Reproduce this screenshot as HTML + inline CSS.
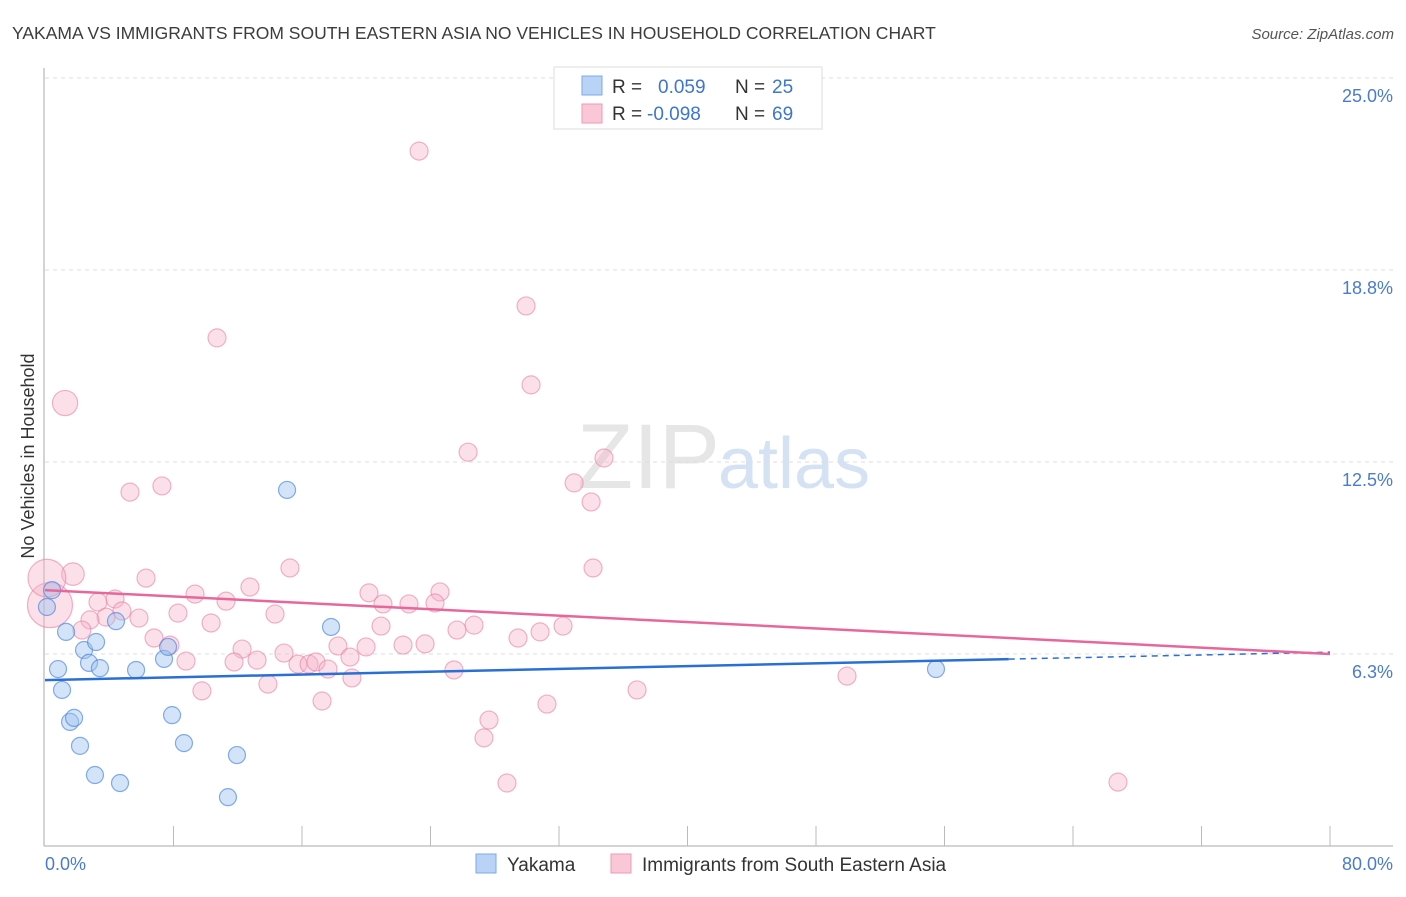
<!DOCTYPE html>
<html><head><meta charset="utf-8"><style>
body{margin:0;background:#fff;font-family:"Liberation Sans",sans-serif;}
svg text{font-family:"Liberation Sans",sans-serif;}
</style></head><body>
<svg id="chart" width="1406" height="892">
<text x="12" y="39" font-size="17.5" fill="#3c3c3c">YAKAMA VS IMMIGRANTS FROM SOUTH EASTERN ASIA NO VEHICLES IN HOUSEHOLD CORRELATION CHART</text>
<text x="1394" y="39" font-size="15" fill="#555" font-style="italic" text-anchor="end">Source: ZipAtlas.com</text>
<text x="720" y="488" font-size="92" fill="#e6e6e6" text-anchor="end" font-family="Liberation Serif">ZIP</text>
<text x="718" y="488" font-size="72" fill="#d4e2f4">atlas</text>
<g id="grid"></g><g id="axes"></g><g id="pts"></g><g id="trend"></g>
<text transform="translate(34,456) rotate(-90)" font-size="18" fill="#333" text-anchor="middle">No Vehicles in Household</text>
<text x="45" y="870" font-size="18" fill="#4a7bd0">0.0%</text>
<text x="1393" y="870" font-size="18" fill="#4a7bd0" text-anchor="end">80.0%</text>
<g>
<rect x="554" y="67" width="268" height="62" fill="#fff" stroke="#ddd"/>
<rect x="582" y="76" width="20" height="19" fill="#b8d3f5" stroke="#7ea8e6"/>
<rect x="582" y="104" width="20" height="19" fill="#f9c7d6" stroke="#ee9ab5"/>
<text x="612" y="93" font-size="19" fill="#333">R = </text><text x="658" y="93" font-size="19" fill="#3d75d3">0.059</text>
<text x="735" y="93" font-size="19" fill="#333">N = </text><text x="772" y="93" font-size="19" fill="#3d75d3">25</text>
<text x="612" y="120" font-size="19" fill="#333">R = </text><text x="647" y="120" font-size="19" fill="#3d75d3">-0.098</text>
<text x="735" y="120" font-size="19" fill="#333">N = </text><text x="772" y="120" font-size="19" fill="#3d75d3">69</text>
</g>
<g>
<rect x="476" y="854" width="20" height="19" fill="#b8d3f5" stroke="#7ea8e6"/>
<text x="507" y="871" font-size="19" fill="#333">Yakama</text>
<rect x="611" y="854" width="20" height="19" fill="#f9c7d6" stroke="#ee9ab5"/>
<text x="642" y="871" font-size="19" fill="#333">Immigrants from South Eastern Asia</text>
</g>
</svg>
<script>
const yTicks=[6.25,12.5,18.75,25];
const yTickLabels=["6.3%","12.5%","18.8%","25.0%"];
const xTicks=[0,8,16,24,32,40,48,56,64,72,80];
const blueX=[0.12,0.44,0.81,1.06,1.31,1.56,1.81,2.18,2.43,2.74,3.11,3.18,3.42,4.42,4.67,5.67,7.41,7.66,7.91,8.65,11.39,11.95,15.07,17.81,55.47];
const blueY=[7.78,8.33,5.76,5.08,6.97,4.04,4.17,3.26,6.38,5.96,2.31,6.64,5.79,7.32,2.05,5.73,6.09,6.48,4.26,3.35,1.59,2.96,11.59,7.13,5.76];
const pinkX=[10.71,23.29,29.95,30.26,26.34,34.80,32.94,34.00,5.29,7.28,34.12,15.25,6.29,12.76,9.34,20.17,24.59,3.30,4.36,11.27,21.04,22.66,24.28,4.79,8.28,14.32,3.80,5.85,2.80,2.30,10.34,20.92,26.71,32.25,25.65,30.82,29.45,6.79,7.78,12.27,18.24,19.99,22.29,23.66,14.88,18.99,8.78,11.77,13.20,15.75,16.44,16.87,17.62,25.46,13.88,19.11,9.77,36.86,49.93,17.25,31.25,27.64,27.33,28.76,66.80,1.25,1.74,0.31,0.12];
const pinkY=[16.54,22.62,17.58,15.01,12.82,12.63,11.82,11.20,11.52,11.72,9.05,9.05,8.72,8.43,8.20,8.24,8.27,7.94,8.04,7.97,7.88,7.88,7.91,7.65,7.58,7.55,7.45,7.42,7.36,7.03,7.26,7.16,7.19,7.16,7.03,6.97,6.77,6.77,6.54,6.41,6.51,6.48,6.54,6.58,6.28,6.15,6.02,5.99,6.05,5.92,5.92,5.99,5.76,5.73,5.27,5.47,5.05,5.08,5.53,4.72,4.62,4.10,3.52,2.05,2.08,14.42,8.85,7.84,8.72];
const pinkSize=[1,1,1,1,1,1,1,1,1,1,1,1,1,1,1,1,1,1,1,1,1,1,1,1,1,1,1,1,1,1,1,1,1,1,1,1,1,1,1,1,1,1,1,1,1,1,1,1,1,1,1,1,1,1,1,1,1,1,1,1,1,1,1,1,1,1.4,1.25,2.5,2.1];
const blueTrend=[5.40,6.31]; // value at x=0 and x=80
const pinkTrend=[8.33,6.25];
const blueSolidEnd=60;
const NS="http://www.w3.org/2000/svg";
const X=v=>45+v/80*1285, Y=v=>846-v/6.25*192;
function mk(t,a,p){const e=document.createElementNS(NS,t);for(const k in a)e.setAttribute(k,a[k]);p.appendChild(e);return e;}
const grid=document.getElementById('grid'),axes=document.getElementById('axes'),pts=document.getElementById('pts'),tr=document.getElementById('trend');
yTicks.forEach((t,i)=>{
 const l=mk('line',{x1:45,x2:1393,y1:Y(t),y2:Y(t),stroke:'#ddd','stroke-dasharray':'4,4'},grid);
 
 
 const tx=mk('text',{x:1393,y:Y(t)+24,'font-size':18,fill:'#4a7bd0','text-anchor':'end'},grid);
 tx.textContent=yTickLabels[i];
 
 
});
const ax=mk('line',{x1:44,x2:44,y1:68,y2:846,stroke:'#aaa'},axes);


const bx=mk('line',{x1:44,x2:1393,y1:846,y2:846,stroke:'#aaa'},axes);


xTicks.forEach(t=>{if(t===0)return;
 const l=mk('line',{x1:X(t),x2:X(t),y1:826,y2:846,stroke:'#bbb'},axes);
 
 
});
pinkX.forEach((x,i)=>{
 const c=mk('circle',{cx:X(x),cy:Y(pinkY[i]),r:9*pinkSize[i],fill:'rgba(246,178,200,0.4)',stroke:'rgba(232,130,165,0.6)','stroke-width':1.2},pts);
 
 
});
blueX.forEach((x,i)=>{
 const c=mk('circle',{cx:X(x),cy:Y(blueY[i]),r:8.5,fill:'rgba(160,196,240,0.45)',stroke:'rgba(70,130,220,0.65)','stroke-width':1.2},pts);
 
 
});
const bAt=x=>blueTrend[0]+(blueTrend[1]-blueTrend[0])*x/80;
const b1=mk('line',{x1:X(0),y1:Y(bAt(0)),x2:X(blueSolidEnd),y2:Y(bAt(blueSolidEnd)),stroke:'#2a6fd6','stroke-width':2.5},tr);


const b2=mk('line',{x1:X(blueSolidEnd),y1:Y(bAt(blueSolidEnd)),x2:X(80),y2:Y(bAt(80)),stroke:'#2a6fd6','stroke-width':1.5,'stroke-dasharray':'6,5'},tr);


const p1=mk('line',{x1:X(0),y1:Y(pinkTrend[0]),x2:X(80),y2:Y(pinkTrend[1]),stroke:'#e8679a','stroke-width':2.5},tr);


</script>
</body></html>
